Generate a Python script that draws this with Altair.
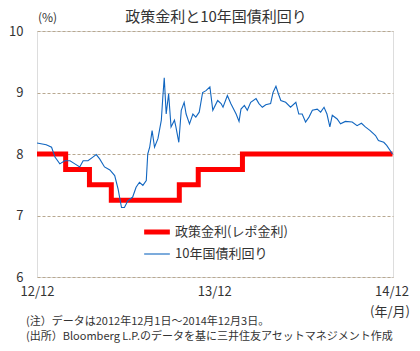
import altair as alt
import pandas as pd

FONT = "Noto Sans CJK JP"

# Policy rate (repo rate) step changes
policy_dates = ["2012-12-01", "2013-01-29", "2013-03-19", "2013-05-03",
                "2013-09-20", "2013-10-29", "2014-01-28", "2014-12-03"]
policy_values = [8.0, 7.75, 7.5, 7.25, 7.5, 7.75, 8.0, 8.0]

# 10-year government bond yield
yield_dates = [
    "2012-12-01", "2012-12-20", "2012-12-31", "2013-01-07", "2013-01-17", "2013-01-27",
    "2013-02-07", "2013-02-17", "2013-02-27", "2013-03-06", "2013-03-16", "2013-03-26",
    "2013-04-02", "2013-04-09", "2013-04-19", "2013-04-30", "2013-05-10", "2013-05-17",
    "2013-05-24", "2013-05-30", "2013-06-06", "2013-06-16", "2013-06-23", "2013-06-30",
    "2013-07-07", "2013-07-14", "2013-07-17", "2013-07-21", "2013-07-26", "2013-07-31",
    "2013-08-07", "2013-08-14", "2013-08-17", "2013-08-20", "2013-08-24", "2013-08-29",
    "2013-09-03", "2013-09-10", "2013-09-13", "2013-09-19", "2013-09-24", "2013-09-30",
    "2013-10-04", "2013-10-11", "2013-10-18", "2013-10-24", "2013-10-31", "2013-11-07",
    "2013-11-14", "2013-11-22", "2013-11-28", "2013-12-08", "2013-12-15", "2013-12-19",
    "2013-12-28", "2014-01-04", "2014-01-15", "2014-01-21", "2014-01-25", "2014-02-01",
    "2014-02-07", "2014-02-14", "2014-02-25", "2014-03-03", "2014-03-10", "2014-03-17",
    "2014-03-27", "2014-04-01", "2014-04-07", "2014-04-12", "2014-04-17", "2014-04-27",
    "2014-05-07", "2014-05-18", "2014-05-24", "2014-05-31", "2014-06-07", "2014-06-14",
    "2014-06-21", "2014-07-01", "2014-07-08", "2014-07-15", "2014-07-21", "2014-07-27",
    "2014-08-01", "2014-08-11", "2014-08-18", "2014-08-28", "2014-09-11", "2014-09-21",
    "2014-09-30", "2014-10-08", "2014-10-18", "2014-10-29", "2014-11-04", "2014-11-15",
    "2014-11-21", "2014-12-03",
]
yield_values = [
    8.18, 8.15, 8.11, 7.95, 7.84, 7.89,
    7.89, 7.84, 7.79, 7.89, 7.89, 7.95,
    7.99, 7.92, 7.79, 7.74, 7.65, 7.43,
    7.13, 7.13, 7.24, 7.30, 7.46, 7.54,
    7.49, 7.57, 8.00, 8.11, 8.38, 8.11,
    8.25, 8.55, 8.92, 9.24, 8.65, 8.98,
    8.44, 8.55, 8.44, 8.19, 8.71, 8.84,
    8.65, 8.49, 8.65, 8.60, 8.68, 9.00,
    9.03, 9.09, 8.71, 8.87, 8.82, 8.76,
    8.95, 8.82, 8.65, 8.53, 8.73, 8.79,
    8.71, 8.84, 8.90, 8.82, 8.76, 8.80,
    8.82, 9.00, 9.10, 8.98, 8.87, 8.84,
    8.76, 8.84, 8.65, 8.65, 8.52, 8.60,
    8.71, 8.73, 8.68, 8.76, 8.65, 8.44,
    8.63, 8.57, 8.49, 8.53, 8.52, 8.46,
    8.50, 8.44, 8.38, 8.30, 8.22, 8.19,
    8.14, 8.00,
]

series_names = ["政策金利(レポ金利)", "10年国債利回り"]
series_colors = ["#ff0000", "#1166c0"]
series_widths = [5, 1.1]

x_tick_dates = ["2012-12-01", "2013-12-01", "2014-12-01"]
y_ticks = [6, 7, 8, 9, 10]

title_text = "政策金利と10年国債利回り"
note_lines = ["(注）データは2012年12月1日～2014年12月3日。",
              "(出所）Bloomberg L.P.のデータを基に三井住友アセットマネジメント作成"]

policy_df = pd.DataFrame({"date": pd.to_datetime(policy_dates), "value": policy_values,
                          "series": series_names[0]})
yield_df = pd.DataFrame({"date": pd.to_datetime(yield_dates), "value": yield_values,
                         "series": series_names[1]})

W, H = 356, 246

x_scale = alt.Scale(domain=["2012-12-01", "2014-12-04"])
y_scale = alt.Scale(domain=[6, 10], nice=False)

color_scale = alt.Scale(domain=series_names, range=series_colors)
width_scale = alt.Scale(domain=series_names, range=series_widths)

legend = alt.Legend(
    title=None, orient="none", legendX=111, legendY=192,
    symbolType="M-2,0L2,0", symbolSize=165, symbolStrokeWidth=5,
    labelFont=FONT, labelFontSize=13, labelColor="#333333",
    rowPadding=5, labelOffset=9, padding=0,
)

x_enc = alt.X("date:T", scale=x_scale, title=None,
              axis=alt.Axis(values=[pd.Timestamp(d).isoformat() for d in x_tick_dates],
                            format="%y/%m", labelFont=FONT, labelFontSize=13,
                            labelColor="#333333", labelPadding=8, ticks=False,
                            domain=False, grid=False, labelFlush=False))
y_enc = alt.Y("value:Q", scale=y_scale, title=None,
              axis=alt.Axis(values=y_ticks, labelFont=FONT, labelFontSize=13,
                            labelColor="#333333", labelPadding=14, ticks=False,
                            domain=False, grid=True, gridDash=[3, 2],
                            gridColor="#b8a890", gridWidth=1))

policy_line = alt.Chart(policy_df).mark_line(interpolate="step-after", clip=True).encode(
    x=x_enc, y=y_enc,
    color=alt.Color("series:N", scale=color_scale, legend=legend),
    strokeWidth=alt.StrokeWidth("series:N", scale=width_scale, legend=None),
)

yield_line = alt.Chart(yield_df).mark_line(clip=True).encode(
    x=x_enc, y=y_enc,
    color=alt.Color("series:N", scale=color_scale, legend=legend),
    strokeWidth=alt.StrokeWidth("series:N", scale=width_scale, legend=None),
)


def text_mark(txt, x, y, size, align):
    return alt.Chart(pd.DataFrame({"t": [txt]})).mark_text(
        font=FONT, fontSize=size, color="#333333", align=align, baseline="middle"
    ).encode(x=alt.value(x), y=alt.value(y), text="t:N")


title_mark = text_mark(title_text, W / 2 + 1, -14, 15, "center")
pct_mark = text_mark("(%)", 1, -13, 12, "left")
unit_mark = text_mark("(年/月)", 373, 281, 13, "right")
note1 = text_mark(note_lines[0], -11, 291, 11, "left")
note2 = text_mark(note_lines[1], -11, 306, 11, "left")

chart = alt.layer(policy_line, yield_line, title_mark, pct_mark, unit_mark, note1, note2).properties(
    width=W, height=H,
    autosize=alt.AutoSizeParams(type="none"),
    padding={"left": 37, "top": 31, "right": 27, "bottom": 74},
).configure_view(
    stroke="#444444", strokeWidth=1.2
).configure(background="white")

chart.save("out.html", embed_options={"renderer": "svg", "actions": False})
